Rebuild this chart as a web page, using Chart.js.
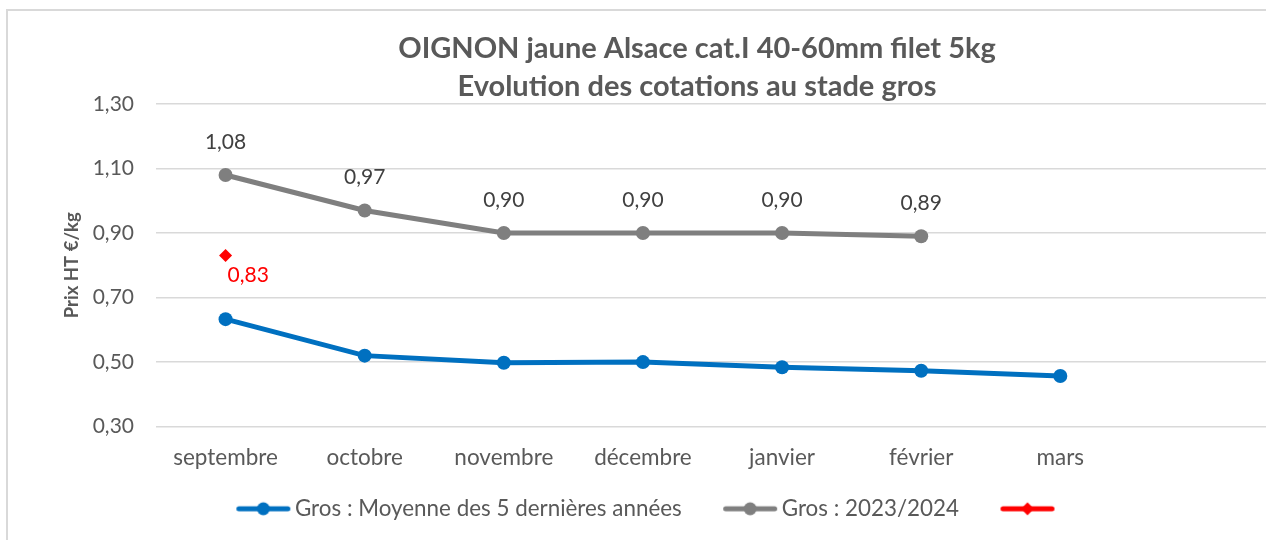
<!DOCTYPE html>
<html><head><meta charset="utf-8">
<script src="https://cdn.jsdelivr.net/npm/chart.js@4.4.1/dist/chart.umd.min.js"></script>
<style>html,body{margin:0;padding:0;background:#fff;overflow:hidden;width:1266px;height:540px}#wrap{width:1276px;height:540px;position:relative}</style>
</head><body><div id="wrap"><canvas id="c"></canvas></div>
<script>
const categories = ['septembre','octobre','novembre','décembre','janvier','février','mars',''];
const moyenne5ans = [0.633,0.52,0.498,0.50,0.484,0.473,0.457,null];
const saison2023 = [1.08,0.97,0.90,0.90,0.90,0.89,null,null];
const saison2024 = [0.83,null,null,null,null,null,null,null];
const seriesLabels = ['Gros : Moyenne des 5 dernières années','Gros : 2023/2024',''];
const titleLines = ['OIGNON jaune Alsace cat.I 40-60mm filet 5kg','Evolution des cotations au stade gros'];
const yTitle = 'Prix HT €/kg';
const yMin = 0.3, yMax = 1.3, yStep = 0.2;

const FONT = 'Lato';
const fr = v => v.toFixed(2).replace('.', ',');

const LEG_FS = 22.4, LEG_A = 32, LEG_L = 53, LEG_GAP = 5;
const LEG_W = LEG_A + LEG_L + LEG_GAP - LEG_FS / 2;
function legendImg(color, style) {
  const c = document.createElement('canvas');
  c.width = Math.round(2 * LEG_W); c.height = 16;
  const g = c.getContext('2d');
  const x0 = c.width / 4 + LEG_A, x1 = x0 + LEG_L, cy = 8, cx = (x0 + x1) / 2;
  g.strokeStyle = color; g.lineWidth = 5; g.lineCap = 'round';
  g.beginPath(); g.moveTo(x0 + 2, cy); g.lineTo(x1 - 2, cy); g.stroke();
  g.fillStyle = color; g.beginPath();
  if (style === 'diamond') { g.moveTo(cx, cy - 6.5); g.lineTo(cx + 6.5, cy); g.lineTo(cx, cy + 6.5); g.lineTo(cx - 6.5, cy); g.closePath(); }
  else g.arc(cx, cy, 6.5, 0, Math.PI * 2);
  g.fill();
  return c;
}

const colors = ['#0070c0', '#7f7f7f', '#ff0000'];
const styles = ['circle', 'circle', 'diamond'];

const framePlugin = {
  id: 'frame',
  beforeDraw(chart) {
    const ctx = chart.ctx; ctx.save();
    ctx.strokeStyle = '#d9d9d9'; ctx.lineWidth = 2;
    ctx.strokeRect(7, 10, 1400, 1000);
    ctx.restore();
  },
  afterLayout(chart) {
    const t = chart.titleBlock;
    if (t) { t.left += 59; t.right += 59; t.top += 2; t.bottom += 2; }
    const l = chart.legend;
    if (l) { l.left -= 6; l.right -= 6; }
  }
};

const labelPlugin = {
  id: 'vlabels',
  afterDatasetsDraw(chart) {
    const ctx = chart.ctx; ctx.save();
    ctx.font = '21px ' + FONT; ctx.textBaseline = 'middle';
    const m1 = chart.getDatasetMeta(1);
    ctx.fillStyle = '#404040'; ctx.textAlign = 'center';
    m1.data.forEach((p, i) => { const v = saison2023[i]; if (v != null) ctx.fillText(fr(v), p.x, p.y - 33); });
    const m2 = chart.getDatasetMeta(2);
    ctx.fillStyle = '#ff0000'; ctx.textAlign = 'left';
    m2.data.forEach((p, i) => { const v = saison2024[i]; if (v != null) ctx.fillText(fr(v), p.x + 2, p.y + 20); });
    ctx.restore();
  }
};

new Chart(document.getElementById('c'), {
  type: 'line',
  data: {
    labels: categories,
    datasets: [
      { label: seriesLabels[0], data: moyenne5ans, borderColor: colors[0], backgroundColor: colors[0], borderWidth: 5, pointRadius: 7, pointHoverRadius: 7, pointBorderWidth: 0, pointBackgroundColor: colors[0], tension: 0 },
      { label: seriesLabels[1], data: saison2023, borderColor: colors[1], backgroundColor: colors[1], borderWidth: 5, pointRadius: 7, pointHoverRadius: 7, pointBorderWidth: 0, pointBackgroundColor: colors[1], tension: 0 },
      { label: seriesLabels[2], data: saison2024, borderColor: colors[2], backgroundColor: colors[2], borderWidth: 5, pointStyle: 'rectRot', pointRadius: 6.5, pointHoverRadius: 6.5, pointBorderWidth: 0, pointBackgroundColor: colors[2], tension: 0 }
    ]
  },
  options: {
    responsive: true, maintainAspectRatio: false, animation: false,
    layout: { padding: { top: 28, left: 0, right: 0, bottom: 10 } },
    plugins: {
      tooltip: { enabled: false },
      title: { display: true, text: titleLines, color: '#595959', padding: 0, font: { family: FONT, size: 29, weight: 'bold', lineHeight: '38px' } },
      legend: {
        position: 'bottom',
        labels: {
          usePointStyle: true, pointStyleWidth: LEG_W, padding: 10, color: '#595959',
          font: { family: FONT, size: LEG_FS },
          generateLabels: chart => chart.data.datasets.map((d, i) => ({
            text: d.label, pointStyle: legendImg(colors[i], styles[i]), fillStyle: colors[i], strokeStyle: colors[i], lineWidth: 0, hidden: false, datasetIndex: i, fontColor: '#595959'
          }))
        }
      }
    },
    scales: {
      x: {
        offset: true,
        grid: { display: false, drawTicks: false, tickLength: 0 }, border: { display: false },
        ticks: { color: '#595959', font: { family: FONT, size: 22.5 }, padding: 18, maxRotation: 0, autoSkip: false },
        afterFit: s => { s.height = 61; }
      },
      y: {
        min: yMin, max: yMax,
        grid: { color: '#d9d9d9', lineWidth: 1.5, drawTicks: false },
        border: { display: false },
        ticks: { stepSize: yStep, color: '#595959', font: { family: FONT, size: 21 }, padding: 22, callback: v => fr(v) },
        title: { display: true, text: yTitle, color: '#595959', font: { family: FONT, size: 18.5, weight: 'bold' }, padding: { top: 60.5, bottom: 0 } },
        afterFit: s => { s.width = 156; }
      }
    }
  },
  plugins: [framePlugin, labelPlugin]
});
</script></body></html>
